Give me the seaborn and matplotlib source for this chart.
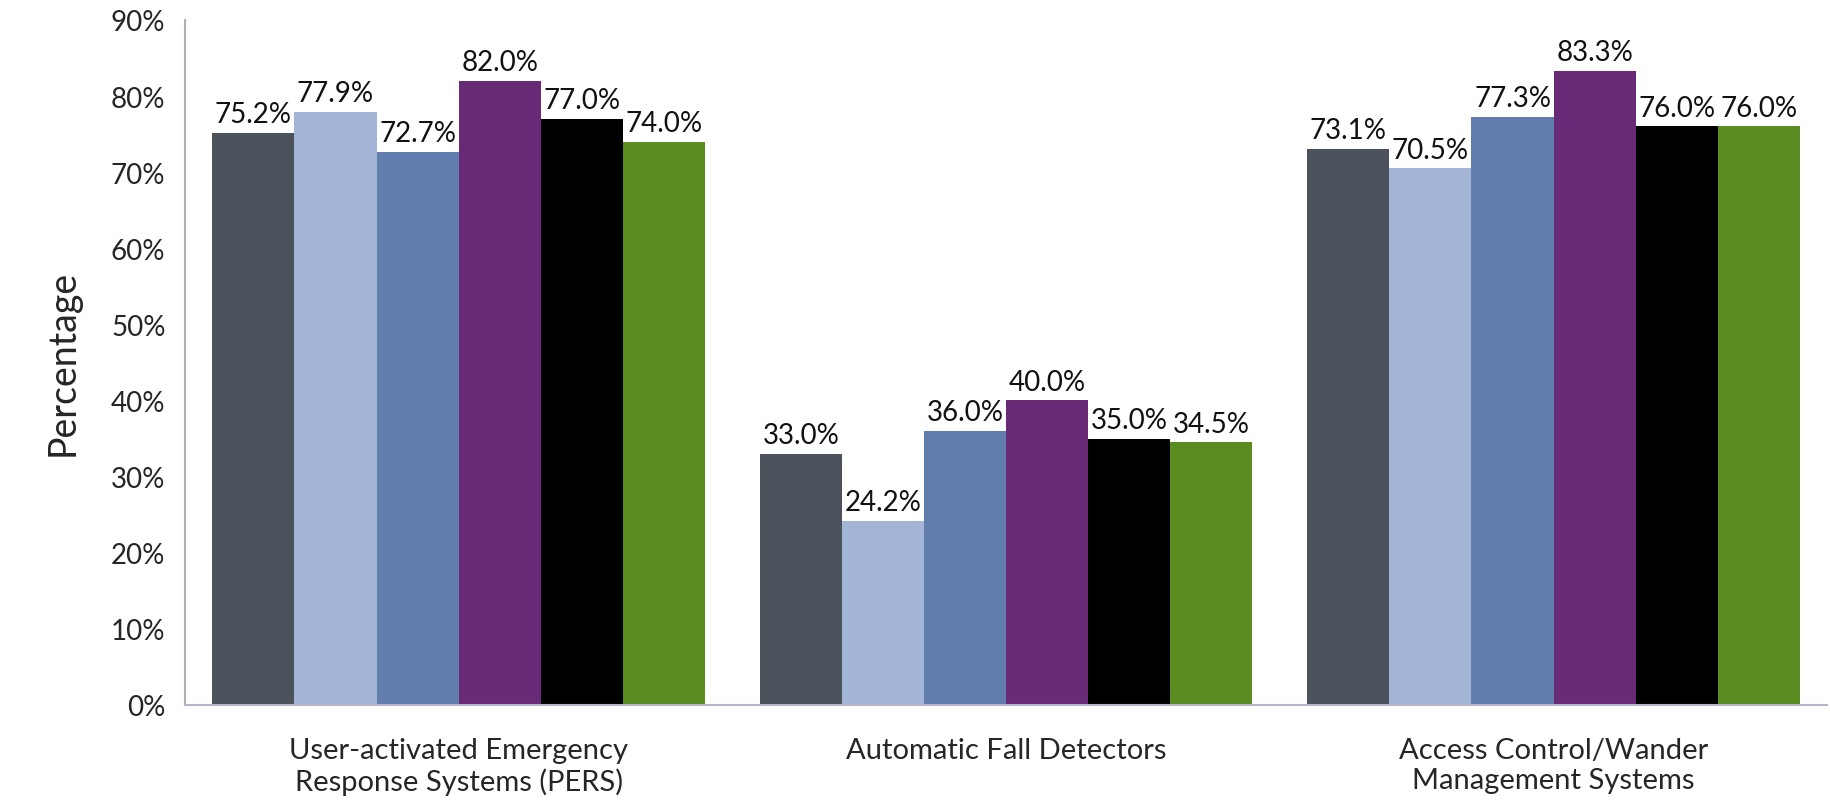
import seaborn as sns
import matplotlib.pyplot as plt
import pandas as pd

categories = [
    "User-activated Emergency\nResponse Systems (PERS)",
    "Automatic Fall Detectors",
    "Access Control/Wander\nManagement Systems",
]
series = ["Group 1", "Group 2", "Group 3", "Group 4", "Group 5", "Group 6"]
group1 = [75.2, 33.0, 73.1]
group2 = [77.9, 24.2, 70.5]
group3 = [72.7, 36.0, 77.3]
group4 = [82.0, 40.0, 83.3]
group5 = [77.0, 35.0, 76.0]
group6 = [74.0, 34.5, 76.0]
colors = ["#4B525C", "#A3B5D6", "#617DAD", "#682A77", "#000000", "#5A8C21"]

rows = []
for name, vals in zip(series, [group1, group2, group3, group4, group5, group6]):
    for cat, v in zip(categories, vals):
        rows.append({"category": cat, "series": name, "value": v})
df = pd.DataFrame(rows)

sns.set_style("white")
plt.rcParams["font.family"] = ["Lato", "DejaVu Sans"]

fig = plt.figure(figsize=(18.31, 8.04), dpi=100)
ax = fig.add_axes([0.101, 0.122, 0.897, 0.852])

sns.barplot(
    data=df,
    x="category",
    y="value",
    hue="series",
    palette=colors,
    saturation=1,
    width=0.9,
    gap=0,
    linewidth=0,
    legend=False,
    ax=ax,
)

for cont in ax.containers:
    ax.bar_label(cont, fmt="%.1f%%", padding=4, fontsize=20, color="#111111")

ax.set_ylim(0, 90)
ax.set_xlim(-0.5, 2.5)
ax.set_yticks(range(0, 91, 10))
ax.set_yticklabels([f"{v}%" for v in range(0, 91, 10)], fontsize=20)
ax.set_xlabel("")
ax.set_ylabel("Percentage", fontsize=27, labelpad=22)
ax.tick_params(axis="x", labelsize=21, length=0, pad=23)
ax.tick_params(axis="y", length=8, width=2, color="#8c8c8c", direction="out", pad=6)

for s in ["top", "right"]:
    ax.spines[s].set_visible(False)
ax.spines["left"].set_color("#b0b0b0")
ax.spines["left"].set_linewidth(1.5)
ax.spines["bottom"].set_color("#b8b4c8")
ax.spines["bottom"].set_linewidth(1.5)

plt.savefig("out.png", dpi=100)
